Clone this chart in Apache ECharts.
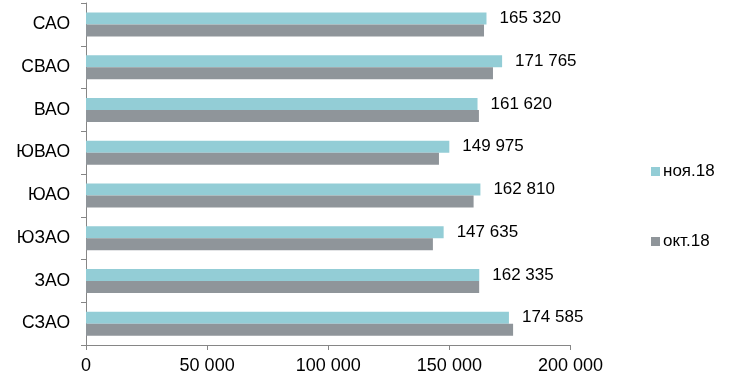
<!DOCTYPE html>
<html><head><meta charset="utf-8">
<script src="https://cdn.jsdelivr.net/npm/echarts@6/dist/echarts.min.js"></script>
<style>html,body{margin:0;padding:0;background:#fff}#c{width:732px;height:389px}</style>
</head><body><div id="c"></div>
<script>
const categories = ['САО','СВАО','ВАО','ЮВАО','ЮАО','ЮЗАО','ЗАО','СЗАО'];
const nov18 = [165320,171765,161620,149975,162810,147635,162335,174585];
const oct18 = [164300,168000,162200,145700,160000,143200,162300,176300];
const seriesNames = ['ноя.18','окт.18'];
const fmt = v => String(v).replace(/\B(?=(\d{3})+(?!\d))/g, ' ');
const chart = echarts.init(document.getElementById('c'));
chart.setOption({
  animation:false,
  textStyle:{fontFamily:'Liberation Sans, Arial, sans-serif'},
  grid:{left:86,top:3,width:484.5,height:342},
  legend:{orient:'vertical',left:646,top:158,itemGap:53,itemWidth:9,itemHeight:9,icon:'rect',
    textStyle:{fontSize:17,color:'#000',padding:[0,0,0,-2]},data:seriesNames},
  xAxis:{type:'value',min:0,max:200000,interval:50000,
    axisLine:{show:true,lineStyle:{color:'#868686'}},
    axisTick:{show:true,length:5,lineStyle:{color:'#868686'}},
    splitLine:{show:false},
    axisLabel:{fontSize:18,color:'#000',margin:12,formatter:fmt}},
  yAxis:{type:'category',inverse:true,data:categories,
    axisLine:{lineStyle:{color:'#868686'}},
    axisTick:{show:true,length:5,lineStyle:{color:'#868686'}},
    axisLabel:{fontSize:17.5,color:'#000',margin:16}},
  series:[
    {name:seriesNames[0],type:'bar',data:nov18,barWidth:12,barGap:'0%',
     itemStyle:{color:'#93CDD6'},
     label:{show:true,position:'right',distance:13,fontSize:17,color:'#000',formatter:p=>fmt(p.value)}},
    {name:seriesNames[1],type:'bar',data:oct18,barWidth:12,barGap:'0%',
     itemStyle:{color:'#8F959A'}}
  ]
});
</script></body></html>
